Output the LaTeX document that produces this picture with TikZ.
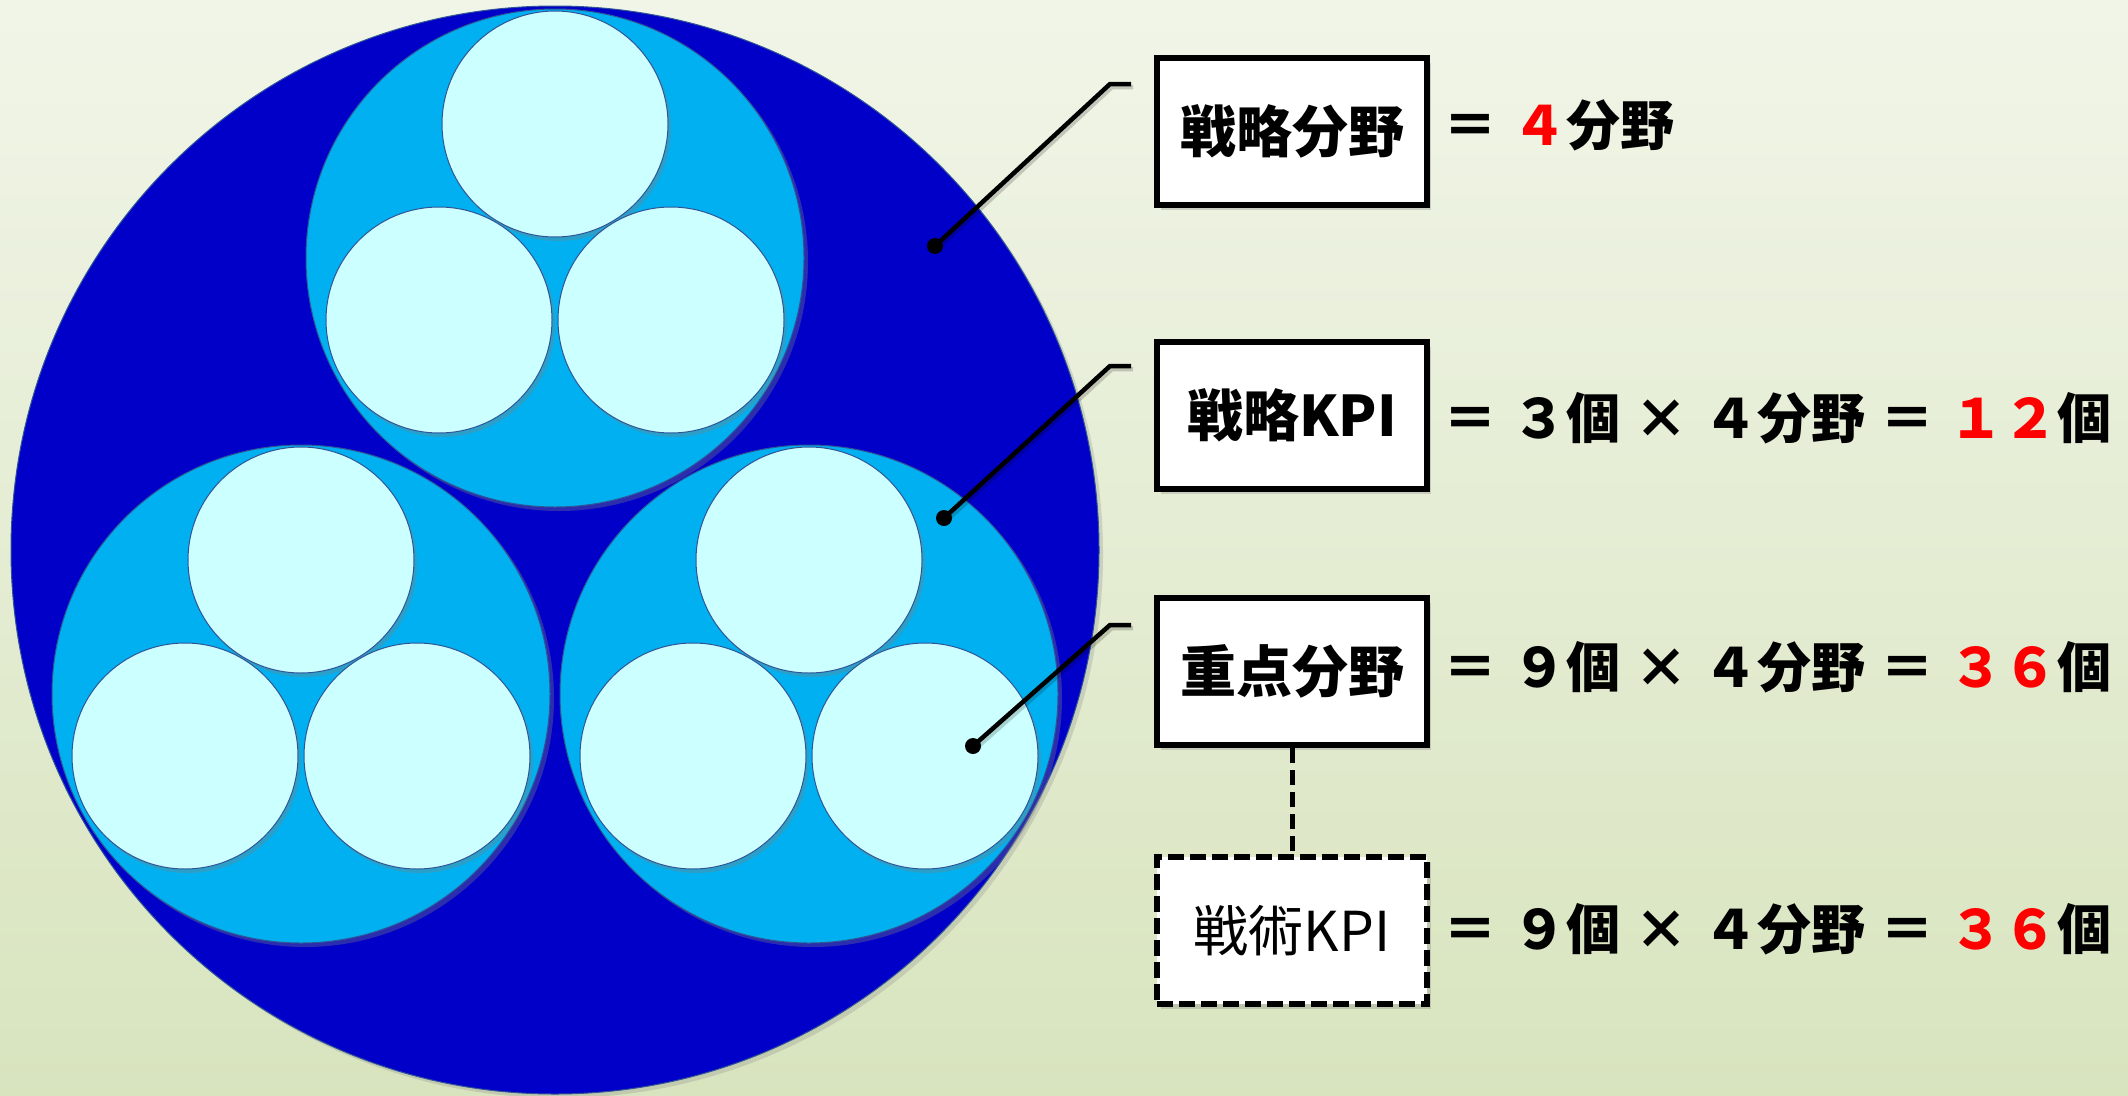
\documentclass[tikz,border=0pt]{standalone}
\usepackage{fontspec}
\newfontfamily\jp{Noto Sans CJK JP}[WordSpace=1.2]
\usetikzlibrary{shadows}
\definecolor{bgtop}{RGB}{241,245,232}
\definecolor{bgbot}{RGB}{216,228,190}
\definecolor{navy}{RGB}{0,0,200}
\definecolor{midblue}{RGB}{0,176,240}
\definecolor{pale}{RGB}{204,255,255}
\definecolor{edgeblue}{RGB}{47,85,151}
\newcommand\tms{\makebox[1em]{×}}
\begin{document}
\begin{tikzpicture}[x=1pt,y=-1pt,
  bigc/.style={circle, fill=navy, draw=edgeblue, line width=1pt, minimum size=1088pt, inner sep=0pt,
    drop shadow={shadow xshift=4pt, shadow yshift=-4pt, opacity=0.25}},
  midc/.style={circle, fill=midblue, draw=edgeblue, line width=1pt, minimum size=498pt, inner sep=0pt,
    drop shadow={shadow xshift=4pt, shadow yshift=-4pt, opacity=0.35}},
  smallc/.style={circle, fill=pale, draw=edgeblue, line width=1pt, minimum size=226pt, inner sep=0pt,
    drop shadow={shadow xshift=3pt, shadow yshift=-4pt, opacity=0.35}},
  box/.style={draw=black, fill=white, line width=6pt, minimum width=270pt, minimum height=147pt,
    inner sep=0pt, font=\jp\bfseries\fontsize{56}{60}\selectfont,
    drop shadow={shadow xshift=4pt, shadow yshift=-5pt, opacity=0.3}},
  dbox/.style={box, dash pattern=on 16pt off 6pt, font=\jp\fontsize{55}{60}\selectfont},
  eq/.style={anchor=west, inner sep=0pt, font=\jp\bfseries\fontsize{54}{60}\selectfont},
  dot/.style={circle, fill=black, minimum size=16pt, inner sep=0pt},
  leader/.style={line width=4.5pt, line join=miter,
    preaction={draw=black, opacity=0.18, line width=4.5pt, transform canvas={xshift=2pt,yshift=-3pt}}},
  vdash/.style={line width=5pt, dash pattern=on 15pt off 7pt}
]
\shade[top color=bgtop, bottom color=bgbot] (0,0) rectangle (2128,1095);
\useasboundingbox (0,0) rectangle (2128,1095);

% circles
\node[bigc] (big) at (555,550) {};
\foreach \g/\cx/\cy in {a/555/258, b/301/694, c/809/694}{
  \node[midc] (m\g) at (\cx,\cy) {};
  \node[smallc] (s\g1) at (\cx,\cy-134) {};
  \node[smallc] (s\g2) at (\cx-116,\cy+62) {};
  \node[smallc] (s\g3) at (\cx+116,\cy+62) {};
}

% boxes
\node[box] (b1) at (1292,131.5) {戦略分野};
\node[box] (b2) at (1292,415) {戦略KPI};
\node[box] (b3) at (1292,671.5) {重点分野};
\node[dbox] (b4) at (1292,930.5) {戦術KPI};
\draw[vdash] (b3.south) -- (b4.north);

% equations
\node[eq] (t1) at (1443,125) {＝ {\color{red}４}分野};
\node[eq] (t2) at (1443,418) {＝ ３個 \tms{} ４分野 ＝ {\color{red}１２}個};
\node[eq] (t3) at (1443,667) {＝ ９個 \tms{} ４分野 ＝ {\color{red}３６}個};
\node[eq] (t4) at (1443,929) {＝ ９個 \tms{} ４分野 ＝ {\color{red}３６}個};

% leader lines
\coordinate (e1) at (1110,84);  \coordinate (h1) at (1131,84);
\coordinate (e2) at (1110,366); \coordinate (h2) at (1131,366);
\coordinate (e3) at (1110,625); \coordinate (h3) at (1131,625);
\node[dot] (d1) at (935,246) {};
\node[dot] (d2) at (944,518) {};
\node[dot] (d3) at (973,746) {};
\draw[leader] (d1.center) -- (e1) -- (h1);
\draw[leader] (d2.center) -- (e2) -- (h2);
\draw[leader] (d3.center) -- (e3) -- (h3);
\end{tikzpicture}
\end{document}
